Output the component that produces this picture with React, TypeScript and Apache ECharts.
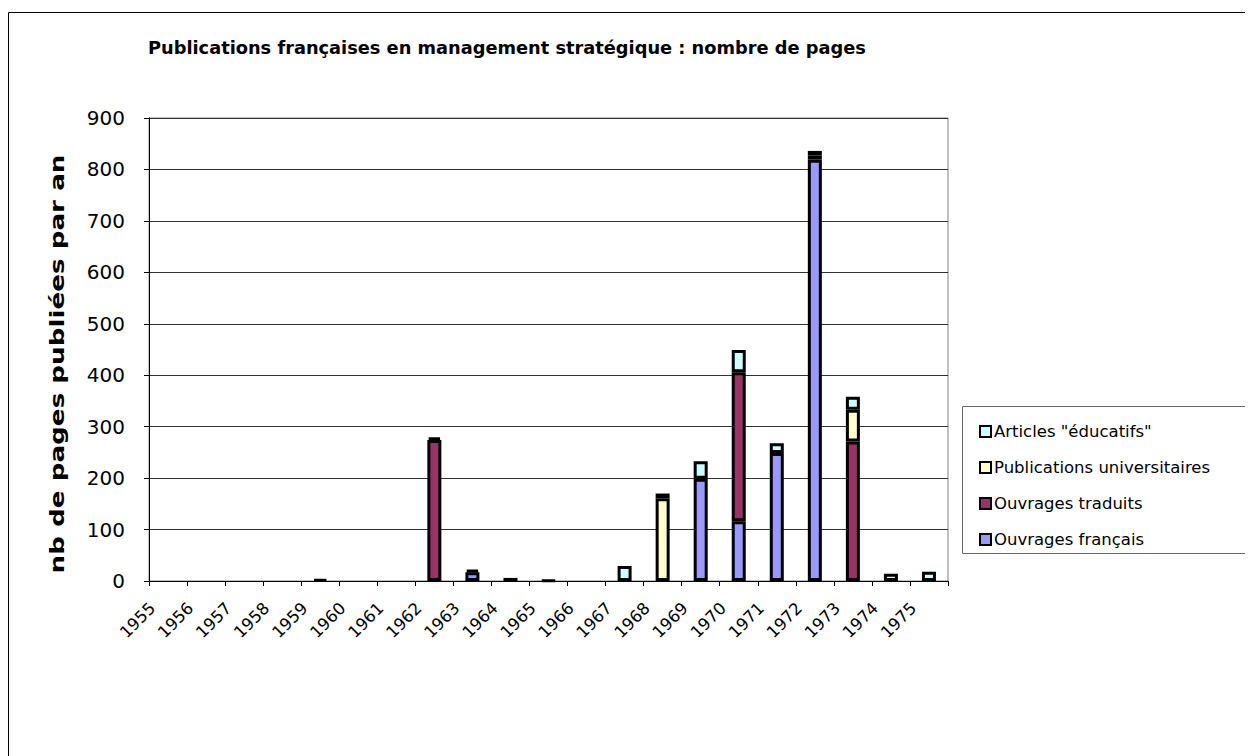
import React, { useEffect, useRef } from "react";
import * as echarts from "echarts";

const years = ["1955","1956","1957","1958","1959","1960","1961","1962","1963","1964","1965","1966","1967","1968","1969","1970","1971","1972","1973","1974","1975"];
const ouvragesFrancais = [0,0,0,0,3,0,0,0,17,0,1,0,0,0,199,116,249,819,0,0,0];
const ouvragesTraduits = [0,0,0,0,0,0,0,274,0,6,0,0,0,0,0,290,0,8,271,0,0];
const publicationsUniv = [0,0,0,0,0,0,0,0,0,0,0,0,0,161,0,0,0,0,62,0,0];
const articlesEducatifs = [0,0,0,0,0,0,0,5,5,0,0,0,29,9,34,43,19,9,25,14,18];
const yTicks = { min: 0, max: 900, interval: 100 };

const FONT = "DejaVu Sans";

export default function App() {
  const ref = useRef<HTMLDivElement>(null);
  useEffect(() => {
    if (!ref.current) return;
    const chart = echarts.init(ref.current, undefined, { renderer: "svg" });
    const mk = (name: string, data: number[], color: string) => ({
      name,
      type: "bar",
      stack: "total",
      data: data.map((v) => (v === 0 ? "-" : v)),
      barWidth: 14,
      itemStyle: { color, borderColor: "#000", borderWidth: 3 },
      emphasis: { disabled: true },
    });
    chart.setOption({
      animation: false,
      textStyle: { fontFamily: FONT },
      graphic: [
        { type: "rect", shape: { x: 0.5, y: 4.5, width: 1400, height: 900 }, style: { fill: "none", stroke: "#000", lineWidth: 1 }, silent: true, z: -10 },
        { type: "rect", shape: { x: 954.5, y: 398.5, width: 400, height: 147 }, style: { fill: "#fff", stroke: "#666", lineWidth: 1 }, silent: true, z: -5 },
        {
          type: "text",
          x: 140,
          y: 39,
          style: {
            text: "Publications françaises en management stratégique : nombre de pages",
            fontFamily: FONT,
            fontSize: 17.8,
            fontWeight: "bold",
            fill: "#000",
            textAlign: "left",
            textVerticalAlign: "middle",
          },
        },
        {
          type: "text",
          x: 49,
          y: 356,
          rotation: Math.PI / 2,
          scaleX: 1.38,
          style: {
            text: "nb de pages publiées par an",
            fontFamily: FONT,
            fontSize: 19,
            fontWeight: "bold",
            fill: "#000",
            textAlign: "center",
            textVerticalAlign: "middle",
          },
        },
      ],
      legend: {
        orient: "vertical",
        left: 966,
        top: 410,
        itemWidth: 11,
        itemHeight: 11,
        itemGap: 19,
        icon: "rect",
        itemStyle: { borderColor: "#000", borderWidth: 2 },
        textStyle: { fontFamily: FONT, fontSize: 16.5, color: "#000", padding: [0, 0, 0, -2] },
        data: ["Articles \"éducatifs\"", "Publications universitaires", "Ouvrages traduits", "Ouvrages français"],
      },
      grid: { left: 141, top: 110, width: 799, height: 463, show: true, borderColor: "#808080", borderWidth: 1, backgroundColor: "transparent" },
      xAxis: {
        type: "category",
        data: years,
        axisLine: { lineStyle: { color: "#000", width: 1 } },
        axisTick: { show: true, length: 5, lineStyle: { color: "#000" } },
        axisLabel: { rotate: 45, interval: 0, fontFamily: FONT, fontSize: 16.5, color: "#000", margin: 9, padding: [0, 22, 0, 0] },
      },
      yAxis: {
        type: "value",
        min: yTicks.min,
        max: yTicks.max,
        interval: yTicks.interval,
        axisLine: { show: true, lineStyle: { color: "#000", width: 1 } },
        axisTick: { show: true, length: 5, lineStyle: { color: "#000" } },
        axisLabel: { fontFamily: FONT, fontSize: 20, color: "#000", margin: 24 },
        splitLine: { show: true, lineStyle: { color: "#333", width: 1 } },
      },
      series: [
        mk("Ouvrages français", ouvragesFrancais, "#9999FF"),
        mk("Ouvrages traduits", ouvragesTraduits, "#993366"),
        mk("Publications universitaires", publicationsUniv, "#FFFFCC"),
        mk("Articles \"éducatifs\"", articlesEducatifs, "#CCFFFF"),
      ],
    });
    return () => chart.dispose();
  }, []);
  return <div ref={ref} style={{ width: 1245, height: 748 }} />;
}
